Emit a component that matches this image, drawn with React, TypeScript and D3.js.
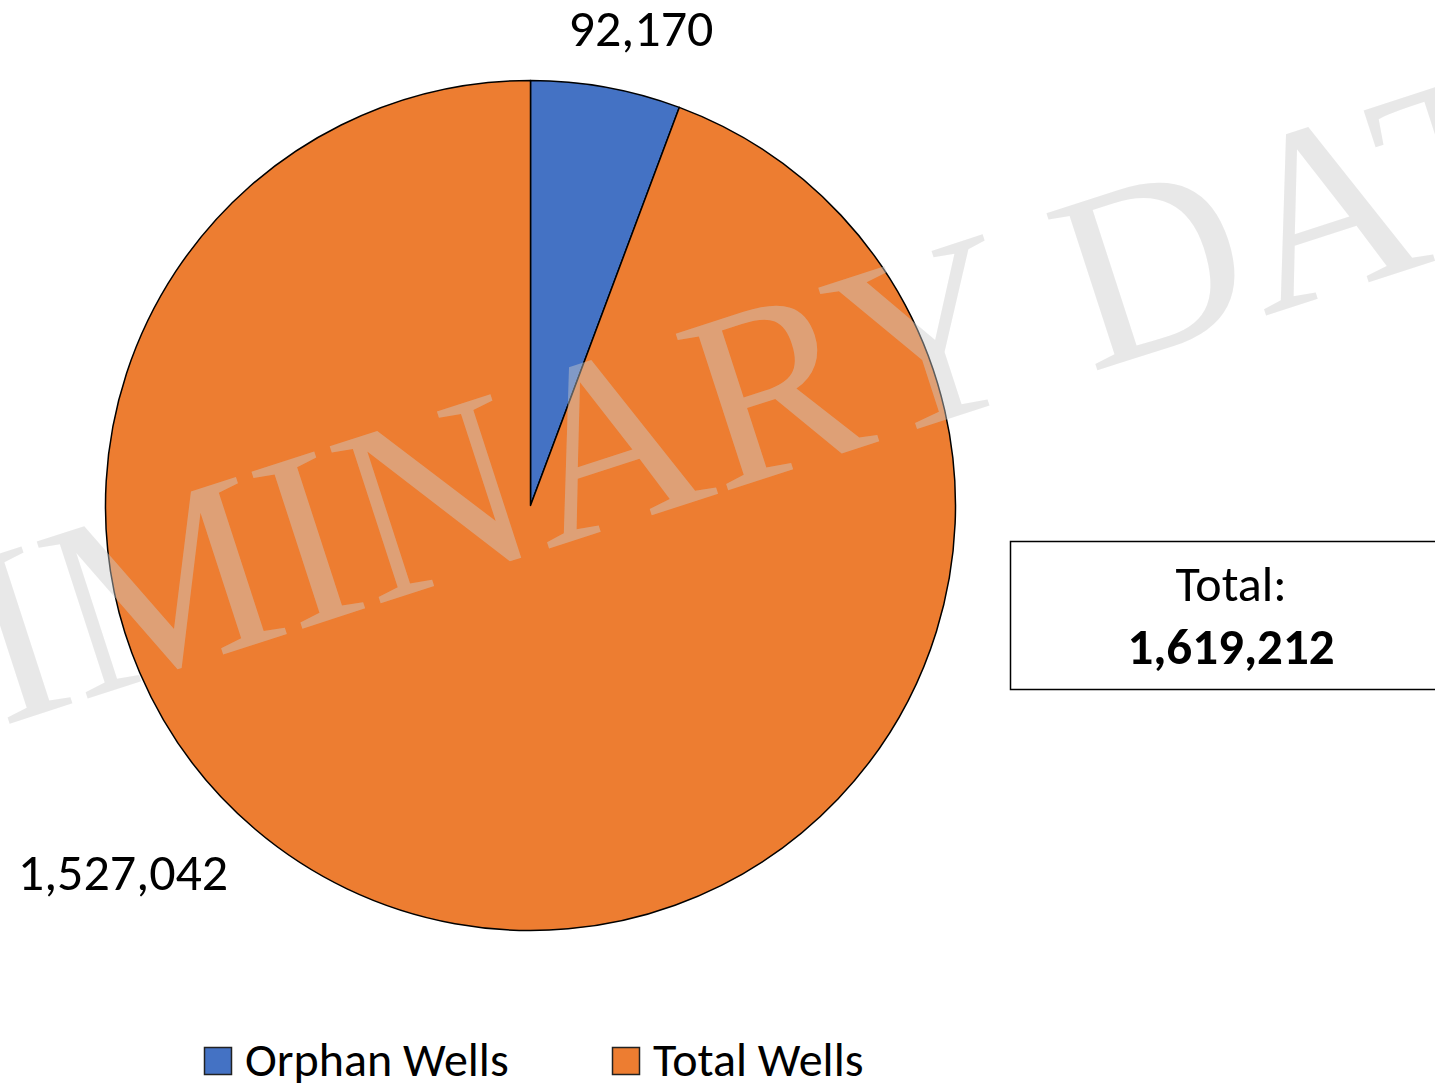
import { useEffect, useRef } from "react";
import * as d3 from "d3";

const categories = ["Orphan Wells", "Total Wells"];
const values = [92170, 1527042];
const colors = ["#4472C4", "#ED7D31"];
const totalLabel = "Total:";
const watermark = "PRELIMINARY DATA";

const labelFont = "Carlito, 'Liberation Sans Narrow', Lato, sans-serif";

const App = () => {
    const svgRef = useRef<SVGSVGElement>(null);

    useEffect(() => {
        const w = 1435;
        const h = 1083;
        const svg = d3.select(svgRef.current).attr("width", w).attr("height", h);
        svg.selectAll("*").remove();

        const cx = 530.5;
        const cy = 505.5;
        const r = 425;

        const pie = d3.pie<number>().sort(null).value((d) => d);
        const arcs = pie(values);
        const arc = d3.arc<d3.PieArcDatum<number>>().innerRadius(0).outerRadius(r);

        const g = svg.append("g").attr("transform", `translate(${cx},${cy})`);
        g.selectAll("path")
            .data(arcs)
            .join("path")
            .attr("d", arc)
            .attr("fill", (d, i) => colors[i])
            .attr("stroke", "#000")
            .attr("stroke-width", 1.5)
            .attr("stroke-linejoin", "round");

        // data labels, outside the pie
        const fmt = d3.format(",");
        const labelPos = [
            [641, 46],
            [123, 890],
        ];
        svg.selectAll(".lbl")
            .data(arcs)
            .join("text")
            .attr("class", "lbl")
            .attr("x", (d, i) => labelPos[i][0])
            .attr("y", (d, i) => labelPos[i][1])
            .attr("text-anchor", "middle")
            .attr("font-family", labelFont)
            .attr("font-size", 52)
            .attr("fill", "#000")
            .text((d) => fmt(d.value));

        // watermark on top of the pie
        svg.append("text")
            .attr("transform", "translate(-585,917) rotate(-18)")
            .attr("font-family", "'Liberation Serif', 'Times New Roman', serif")
            .attr("font-size", 252)
            .attr("fill", "#cccccc")
            .attr("fill-opacity", 0.45)
            .text(watermark);

        // total box
        svg.append("rect")
            .attr("x", 1010.5)
            .attr("y", 541.5)
            .attr("width", 450)
            .attr("height", 148)
            .attr("fill", "#fff")
            .attr("stroke", "#000")
            .attr("stroke-width", 1.5);
        svg.append("text")
            .attr("x", 1231)
            .attr("y", 601)
            .attr("text-anchor", "middle")
            .attr("font-family", labelFont)
            .attr("font-size", 50)
            .text(totalLabel);
        svg.append("text")
            .attr("x", 1231)
            .attr("y", 664)
            .attr("text-anchor", "middle")
            .attr("font-family", labelFont)
            .attr("font-size", 51)
            .attr("font-weight", "bold")
            .text(fmt(d3.sum(values)));

        // legend
        const legendX = [204, 612];
        const leg = svg.selectAll(".leg")
            .data(categories)
            .join("g")
            .attr("class", "leg")
            .attr("transform", (d, i) => `translate(${legendX[i]},1047)`);
        leg.append("rect")
            .attr("x", 0.5)
            .attr("y", 0.5)
            .attr("width", 27)
            .attr("height", 27)
            .attr("fill", (d, i) => colors[i])
            .attr("stroke", "#222")
            .attr("stroke-width", 1.5);
        leg.append("text")
            .attr("x", 41)
            .attr("y", 29)
            .attr("font-family", labelFont)
            .attr("font-size", 48)
            .text((d) => d);
    }, []);

    return (
        <div style={{ position: "absolute", left: 0, top: 0 }}>
            <svg ref={svgRef} style={{ display: "block" }}></svg>
        </div>
    );
};

export default App;
